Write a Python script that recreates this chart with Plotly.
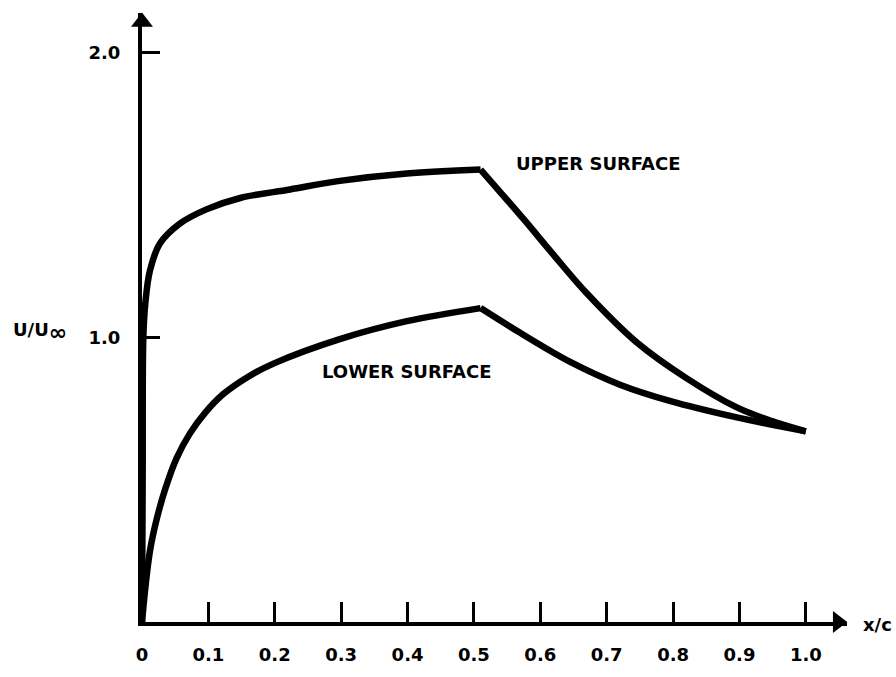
import plotly.graph_objects as go

# Velocity ratio U/U_inf along the chord, read per surface
upper_x = [0.0, 0.001, 0.002, 0.005, 0.012, 0.027, 0.057, 0.097, 0.148, 0.223, 0.298, 0.399, 0.51,
           0.574, 0.62, 0.67, 0.745, 0.82, 0.896, 0.95, 1.0]
upper_u = [0.0, 0.5, 1.0, 1.12, 1.235, 1.33, 1.40, 1.45, 1.49, 1.52, 1.55, 1.576, 1.59,
           1.418, 1.29, 1.155, 0.983, 0.857, 0.754, 0.705, 0.67]

lower_x = [0.0, 0.005, 0.012, 0.022, 0.035, 0.052, 0.072, 0.095, 0.122, 0.16, 0.198, 0.298, 0.399, 0.51,
           0.569, 0.645, 0.72, 0.795, 0.896, 1.0]
lower_u = [0.0, 0.12, 0.25, 0.36, 0.467, 0.575, 0.662, 0.735, 0.80, 0.862, 0.908, 0.994, 1.057, 1.103,
           1.017, 0.914, 0.834, 0.777, 0.719, 0.67]

x_ticks = [0, 0.1, 0.2, 0.3, 0.4, 0.5, 0.6, 0.7, 0.8, 0.9, 1.0]
x_tick_text = ["0", "0.1", "0.2", "0.3", "0.4", "0.5", "0.6", "0.7", "0.8", "0.9", "1.0"]
y_ticks = [1.0, 2.0]
y_tick_text = ["1.0", "2.0"]

X_MAX = 1.062
Y_MAX = 2.14
CORNER = 0.51
FONT = "DejaVu Sans"

fig = go.Figure()


def add_surface(xs, us):
    # smooth segments on either side of the slope break at mid-chord
    i = xs.index(CORNER)
    for seg_x, seg_u in ((xs[:i + 1], us[:i + 1]), (xs[i:], us[i:])):
        fig.add_trace(go.Scatter(
            x=seg_x, y=seg_u, mode="lines",
            line=dict(color="black", width=6.5, shape="spline", smoothing=1.0),
            hoverinfo="skip", showlegend=False,
        ))


add_surface(upper_x, upper_u)
add_surface(lower_x, lower_u)

# arrowheads capping both axes
fig.add_trace(go.Scatter(
    x=[0, X_MAX - 0.014], y=[Y_MAX - 0.032, 0], mode="markers",
    marker=dict(symbol=["triangle-up", "triangle-right"], size=19, color="black"),
    cliponaxis=False, hoverinfo="skip", showlegend=False,
))

tick_font = dict(family=FONT, size=18, color="black", weight="bold")

fig.update_xaxes(
    range=[0, X_MAX], showgrid=False, zeroline=False,
    showline=True, linecolor="black", linewidth=4,
    tickvals=x_ticks, ticktext=x_tick_text,
    ticks="inside", ticklen=20, tickwidth=3, tickcolor="black",
    ticklabelstandoff=13, tickfont=tick_font,
)
fig.update_yaxes(
    range=[0, Y_MAX], showgrid=False, zeroline=False,
    showline=True, linecolor="black", linewidth=4,
    tickvals=y_ticks, ticktext=y_tick_text,
    ticks="inside", ticklen=18, tickwidth=3, tickcolor="black",
    ticklabelstandoff=14, tickfont=tick_font,
)

label_font = dict(family=FONT, size=18, color="black", weight="bold")

# axis titles sit outside the plotting area, so place them in paper units
fig.add_annotation(x=-0.154 / X_MAX, y=1.02 / Y_MAX, xref="paper", yref="paper",
                   xanchor="center", yanchor="middle",
                   text="U/U<sub><span style='font-size:22px'>∞</span></sub>",
                   showarrow=False, font=label_font)
fig.add_annotation(x=1.108 / X_MAX, y=-0.01 / Y_MAX, xref="paper", yref="paper",
                   xanchor="center", yanchor="middle",
                   text="x/c", showarrow=False, font=label_font)
fig.add_annotation(x=0.688, y=1.612, xref="x", yref="y", text="UPPER SURFACE",
                   showarrow=False, font=label_font)
fig.add_annotation(x=0.399, y=0.88, xref="x", yref="y", text="LOWER SURFACE",
                   showarrow=False, font=label_font)

fig.update_layout(
    width=896, height=677,
    margin=dict(l=142, r=49, t=13, b=41),
    paper_bgcolor="white", plot_bgcolor="white",
    showlegend=False,
)

fig.write_html("out.html")
